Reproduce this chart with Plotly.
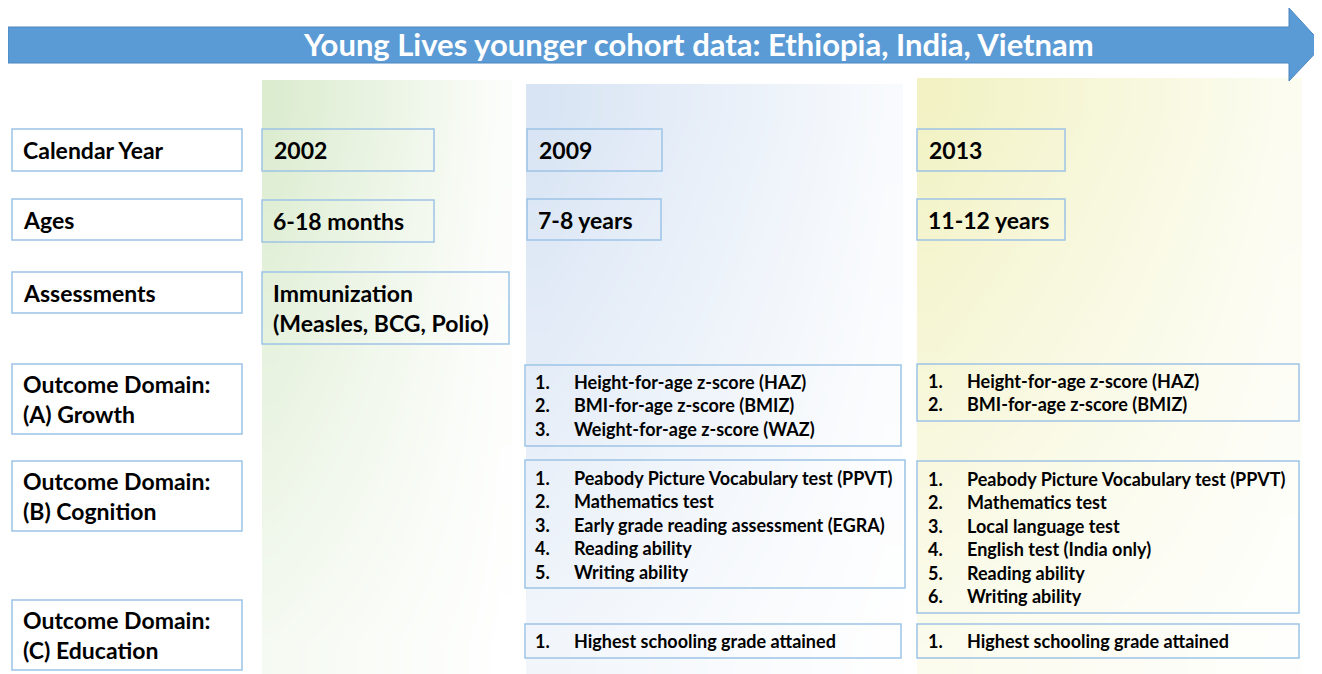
import plotly.graph_objects as go

# ---------------- data ----------------
title_text = "Young Lives younger cohort data: Ethiopia, India, Vietnam"
row_labels = ["Calendar Year", "Ages", "Assessments",
              "Outcome Domain:<br>(A) Growth",
              "Outcome Domain:<br>(B) Cognition",
              "Outcome Domain:<br>(C) Education"]
years = ["2002", "2009", "2013"]
ages = ["6-18 months", "7-8 years", "11-12 years"]
assessments_2002 = "Immunization<br>(Measles, BCG, Polio)"
growth_2009 = ["Height-for-age z-score (HAZ)", "BMI-for-age z-score (BMIZ)",
               "Weight-for-age z-score (WAZ)"]
growth_2013 = ["Height-for-age z-score (HAZ)", "BMI-for-age z-score (BMIZ)"]
cognition_2009 = ["Peabody Picture Vocabulary test (PPVT)", "Mathematics test",
                  "Early grade reading assessment (EGRA)", "Reading ability",
                  "Writing ability"]
cognition_2013 = ["Peabody Picture Vocabulary test (PPVT)", "Mathematics test",
                  "Local language test", "English test (India only)",
                  "Reading ability", "Writing ability"]
education_2009 = ["Highest schooling grade attained"]
education_2013 = ["Highest schooling grade attained"]

# ---------------- layout constants ----------------
W, H = 1322, 674
OFF = 8  # page body margin
FONT = "Lato"
BORDER = "#9DC3E6"
fig = go.Figure()
annotations = []
shapes = []


def poly(xs, ys, **kw):
    fig.add_trace(go.Scatter(x=xs + [xs[0]], y=ys + [ys[0]], mode="lines",
                             fill="toself", hoverinfo="skip", showlegend=False, **kw))


def column_bg(x0, x1, y0, y1, color, tl, tr, bl, br, n=10):
    """Soft diagonal background wash (decoration) drawn as a smoothed heatmap."""
    xe = [x0 + (x1 - x0) * i / n for i in range(n + 1)]
    ye = [y0 + (y1 - y0) * i / n for i in range(n + 1)]
    z = []
    for j in range(n):
        v = (j + 0.5) / n
        row = []
        for i in range(n):
            u = (i + 0.5) / n
            row.append(tl * (1 - u) * (1 - v) + tr * u * (1 - v) + bl * (1 - u) * v + br * u * v)
        z.append(row)
    fig.add_trace(go.Heatmap(x=xe, y=ye, z=z, zmin=0, zmax=1, zsmooth="best",
                             colorscale=[[0, "white"], [1, color]], showscale=False,
                             hoverinfo="skip"))


def box(x0, y0, x1, y1, fill="rgba(0,0,0,0)"):
    shapes.append(dict(type="rect", x0=x0, x1=x1, y0=y0, y1=y1, xref="x", yref="y",
                       line=dict(color=BORDER, width=1.5), fillcolor=fill, layer="above"))


def text(x, y, s, size=23, color="black", anchor="left"):
    annotations.append(dict(x=x, y=y, xref="x", yref="y", text="<b>%s</b>" % s,
                            showarrow=False, xanchor=anchor, yanchor="middle", align="left",
                            font=dict(family=FONT, size=size, color=color)))


def numbered(xn, xt, y0, items, step=23.4):
    for i, it in enumerate(items):
        y = y0 + i * step
        text(xn, y, "%d." % (i + 1), size=18)
        text(xt, y, it, size=18)


# column backgrounds
column_bg(262, 512, 80, H, "#D8EACB", 1.0, 0.06, 0.22, 0.0)
column_bg(526, 903, 84, H, "#D5E2F3", 1.0, 0.14, 0.3, 0.0)
column_bg(917, 1302, 78, H, "#F1F1C0", 1.0, 0.2, 0.25, 0.02)

# arrow
ax0, ax1, ay0, ay1 = 8, 1289, 27, 63
poly([ax0, ax1, ax1, 1323, ax1, ax1, ax0], [ay0, ay0, 8, 45, 81, ay1, ay1],
     fillcolor="#5B9BD5", line=dict(color="#4A86C0", width=1))
text(698, 44, title_text, size=31, color="white", anchor="center")

# left labels
left_boxes = [(129, 171), (199, 240), (272, 313), (364, 434), (461, 531), (600, 670)]
for lab, (y0, y1) in zip(row_labels, left_boxes):
    box(12, y0, 242, y1, fill="white")
    text(21, (y0 + y1) / 2, lab)

# year / age boxes
col_x = [262, 527, 917]
year_w = [172, 135, 148]
age_w = [172, 134, 148]
for i in range(3):
    box(col_x[i], 129, col_x[i] + year_w[i], 171)
    text(col_x[i] + 10, 150, years[i])
    box(col_x[i], 200 if i == 0 else 199, col_x[i] + age_w[i], 242 if i == 0 else 240)
    text(col_x[i] + 9, 221 if i == 0 else 220, ages[i])

# assessments
box(262, 272, 509, 344)
text(271, 308, assessments_2002)

# 2009 lists
box(525, 365, 901, 446)
numbered(533, 572, 382, growth_2009)
box(525, 460, 905, 588)
numbered(533, 572, 478, cognition_2009)
box(525, 624, 901, 658)
numbered(533, 572, 641, education_2009)

# 2013 lists
box(917, 364, 1299, 421)
numbered(926, 965, 381, growth_2013)
box(917, 461, 1299, 613)
numbered(926, 965, 479, cognition_2013)
box(917, 624, 1299, 658)
numbered(926, 965, 641, education_2013)

fig.update_layout(
    width=W - OFF, height=H - OFF, margin=dict(l=0, r=0, t=0, b=0),
    paper_bgcolor="white", plot_bgcolor="white",
    xaxis=dict(range=[OFF, W], visible=False, fixedrange=True),
    yaxis=dict(range=[H, OFF], visible=False, fixedrange=True),
    shapes=shapes, annotations=annotations, showlegend=False,
)
fig.write_html("out.html", config={"displayModeBar": False})
